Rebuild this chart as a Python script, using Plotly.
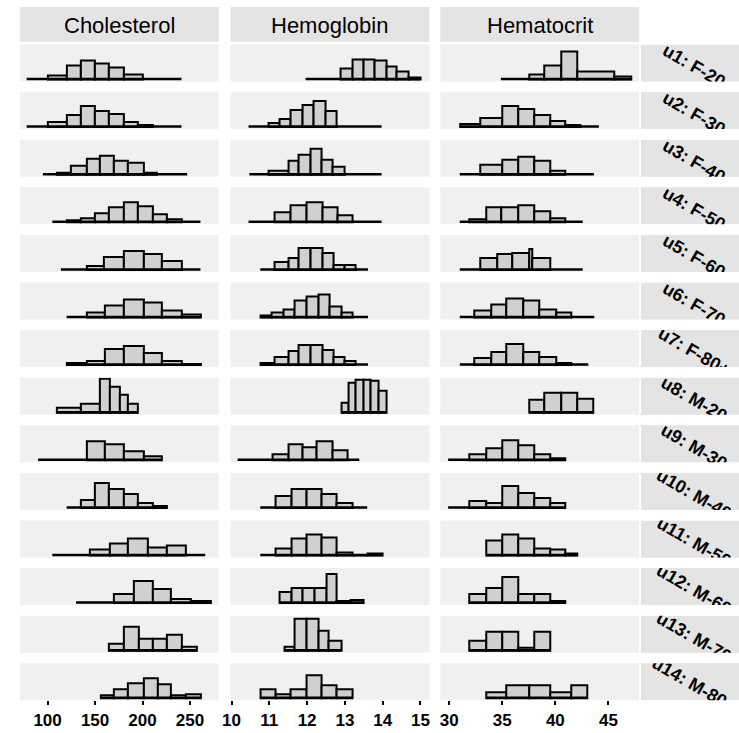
import plotly.graph_objects as go

# ---------------- data ----------------
variables = ["Cholesterol", "Hemoglobin", "Hematocrit"]
groups = ["u1: F-20", "u2: F-30", "u3: F-40", "u4: F-50", "u5: F-60", "u6: F-70", "u7: F-80+",
          "u8: M-20", "u9: M-30", "u10: M-40", "u11: M-50", "u12: M-60", "u13: M-70", "u14: M-80+"]

chol_edges = [
    [100, 120, 135, 150, 165, 180, 200],
    [100, 120, 135, 150, 165, 180, 195, 211],
    [110, 124, 141, 155, 170, 185, 201, 215],
    [120, 135, 150, 165, 180, 195, 211, 226, 241],
    [141, 159, 180, 201, 220, 241],
    [141, 160, 180, 201, 220, 241, 261],
    [120, 141, 160, 180, 201, 220, 241, 261],
    [110, 135, 155, 166, 176, 185, 195],
    [141, 160, 180, 201, 220],
    [135, 150, 165, 180, 195, 211, 226],
    [145, 166, 185, 206, 226, 246],
    [170, 191, 211, 230, 251, 272],
    [165, 180, 196, 211, 226, 241, 257],
    [156, 170, 185, 201, 216, 230, 246, 261],
]
chol_counts = [
    [3.3, 13.3, 19, 15.7, 11.7, 5],
    [4.7, 11.3, 20.7, 15.7, 12.3, 5, 2],
    [1.3, 8.3, 15.7, 18.7, 14, 11.3, 2],
    [1.7, 3.3, 9, 15, 19.7, 15.7, 7.3, 2.7],
    [4, 12.7, 18.3, 15.7, 8.3],
    [5, 11.3, 18, 14.7, 6.3, 2.3],
    [2, 3.3, 16, 19, 11.7, 3.3, 1],
    [5, 8.3, 34, 25.7, 17.3, 8.3],
    [18.7, 16, 8.7, 3.3],
    [8, 24.7, 19, 13.3, 4.7, 1.7],
    [6, 12, 16.3, 8, 9.3],
    [8.3, 21.7, 14, 3.3, 1.7],
    [6.7, 24, 11.3, 11.3, 15.3, 3.3],
    [2.3, 9, 14.7, 20, 14, 2.3, 3.3],
]
chol_span = [[78, 241], [78, 241], [95, 247], [105, 261], [114, 261], [120, 261], [120, 261],
             [110, 195], [90, 220], [120, 226], [105, 266], [130, 272], [165, 257], [156, 261]]

hgb_edges = [
    [12.88, 13.2, 13.49, 13.79, 14.09, 14.38, 14.69, 14.99],
    [10.98, 11.26, 11.56, 11.87, 12.18, 12.48, 12.78],
    [10.98, 11.5, 11.78, 12.09, 12.39, 12.68, 12.98],
    [11.15, 11.56, 11.98, 12.4, 12.81, 13.2],
    [11.15, 11.5, 11.78, 12.09, 12.4, 12.7, 12.98, 13.27],
    [10.76, 11.07, 11.37, 11.68, 11.98, 12.29, 12.59, 12.9, 13.2],
    [10.76, 11.15, 11.5, 11.78, 12.09, 12.4, 12.7, 12.98, 13.27],
    [12.9, 13.09, 13.27, 13.49, 13.68, 13.88, 14.09],
    [11.09, 11.5, 11.88, 12.26, 12.68, 13.07],
    [11.17, 11.59, 11.98, 12.37, 12.78, 13.19],
    [11.17, 11.59, 11.98, 12.37, 12.78, 13.19, 13.59, 13.99],
    [11.28, 11.59, 11.88, 12.2, 12.51, 12.78, 13.16, 13.49],
    [11.39, 11.68, 11.98, 12.29, 12.57, 12.9],
    [10.76, 11.17, 11.57, 11.98, 12.37, 12.78, 13.19],
]
hgb_counts = [
    [10.7, 20, 20, 18.3, 13, 8, 1.7],
    [3.3, 7.3, 16.7, 21.7, 26, 15.7],
    [4, 13.3, 19.3, 25.7, 14.3, 7.7],
    [9.3, 16.7, 19.3, 15, 6.7],
    [7.7, 12, 21.7, 21.7, 17, 5, 5],
    [1.7, 4.3, 7.3, 16.7, 21, 22.7, 10.7, 5],
    [1.7, 7.7, 13.7, 19.3, 20, 15, 7.7, 3.7],
    [9.7, 29.7, 32.3, 33, 31.3, 21.3],
    [5.3, 16, 12.7, 18.7, 9.3],
    [11.3, 19, 19, 13.3, 4.7],
    [7, 17, 20.3, 17.7, 2.7, 0, 2],
    [11, 15, 15, 15, 28.7, 2, 2.7],
    [4, 31.3, 31.3, 20, 10],
    [9, 3.3, 9, 23, 13, 9],
]
hgb_span = [[11.96, 14.99], [10.45, 13.97], [10.47, 13.97], [10.45, 13.97], [10.76, 13.61],
            [10.76, 13.61], [10.76, 13.61], [12.9, 14.09], [10.16, 13.38], [10.76, 13.59],
            [10.76, 13.99], [11.28, 13.49], [11.39, 12.9], [10.76, 13.19]]

hct_edges = [
    [37.52, 38.97, 40.53, 42.02, 45.54, 47.15],
    [31.0, 32.95, 34.97, 36.52, 37.98, 39.53, 40.93, 42.33],
    [32.95, 34.97, 36.52, 37.98, 39.53, 40.93],
    [31.93, 33.48, 34.94, 36.5, 37.99, 39.53, 40.93],
    [32.95, 34.5, 35.96, 37.52, 37.83, 39.53],
    [32.4, 34.01, 35.41, 36.99, 38.51, 40.07, 41.49],
    [32.4, 34.01, 35.41, 36.99, 38.51, 40.07, 41.49],
    [37.58, 38.97, 40.56, 42.09, 43.58],
    [31.86, 33.48, 34.97, 36.52, 37.98, 39.53, 40.93],
    [31.86, 33.48, 34.97, 36.52, 37.98, 39.53, 40.93],
    [33.48, 34.97, 36.52, 37.98, 39.53, 40.93, 42.09],
    [31.86, 33.48, 34.97, 36.52, 37.98, 39.53, 40.93],
    [31.86, 33.48, 34.97, 36.52, 37.98, 39.53],
    [33.48, 35.41, 37.52, 39.53, 41.49, 43.05],
]
hct_counts = [
    [5, 13.3, 27.3, 8, 2.3],
    [2.3, 9, 20.7, 17.3, 11.7, 5.7, 1.3],
    [9.3, 15, 17.3, 13.3, 4],
    [3, 14.3, 14.3, 16.7, 10.7, 3.3],
    [12, 15.3, 16.7, 21, 12],
    [6.3, 13, 19, 16.3, 8, 4.7],
    [7, 12.7, 21, 12.7, 7.7, 1.7],
    [13, 20, 20, 14],
    [6, 11.7, 20, 14.3, 6, 2],
    [6.7, 4.7, 21.3, 14.7, 9.7, 4.7],
    [14.3, 20.3, 17, 7, 6, 2],
    [8.7, 14.3, 25.3, 8.3, 8.3, 2],
    [10, 18.3, 18.3, 3, 18.3],
    [5.7, 12.3, 12.3, 5.7, 12.3],
]
hct_span = [[34.87, 47.15], [31.0, 44.1], [31.0, 43.63], [31.0, 42.58], [31.0, 42.58],
            [31.0, 43.67], [31.0, 43.11], [37.58, 43.58], [29.9, 40.93], [29.9, 40.93],
            [33.48, 42.09], [31.86, 40.93], [31.86, 39.53], [33.48, 43.05]]

x_ranges = [[70.8, 280.2], [9.974, 15.236], [29.16, 47.89]]
x_ticks = [[100, 150, 200, 250], [10, 11, 12, 13, 14, 15], [30, 35, 40, 45]]

# ---------------- layout geometry (window pixels) ----------------
W, H = 739, 733
col_px = [(12, 213), (225, 426), (437, 638)]
strip_x0 = 640
row_base0, row_pitch = 79, 47.6
y_lo, y_hi = -2.5, 34.5  # count axis range

PANEL_BG = "#F0F0F0"
STRIP_BG = "#E4E4E4"
BAR_FILL = "#D0D0D0"
FONT = "Liberation Sans, Arial, sans-serif"

all_edges = [chol_edges, hgb_edges, hct_edges]
all_counts = [chol_counts, hgb_counts, hct_counts]
all_span = [chol_span, hgb_span, hct_span]


def px_x(x):
    return x / W


def px_y(y):
    return 1 - y / H


def row_domain(i):
    base = row_base0 + row_pitch * i
    return [px_y(base + 2.5), px_y(base - 34.5)]


fig = go.Figure()
layout = {}
k = 0
for i in range(14):
    for c in range(3):
        k += 1
        suf = "" if k == 1 else str(k)
        edges = all_edges[c][i]
        counts = all_counts[c][i]
        centers = [(edges[j] + edges[j + 1]) / 2 for j in range(len(counts))]
        widths = [edges[j + 1] - edges[j] for j in range(len(counts))]
        fig.add_trace(go.Bar(x=centers, y=counts, width=widths, xaxis="x" + suf, yaxis="y" + suf,
                             marker=dict(color=BAR_FILL, line=dict(color="black", width=2)),
                             showlegend=False, hoverinfo="skip"))
        lo, hi = all_span[c][i]
        fig.add_trace(go.Scatter(x=[lo, hi], y=[0, 0], mode="lines", xaxis="x" + suf, yaxis="y" + suf,
                                 line=dict(color="black", width=2.5), showlegend=False, hoverinfo="skip"))
        bottom = (i == 13)
        layout["xaxis" + suf] = dict(
            domain=[px_x(col_px[c][0]), px_x(col_px[c][1])], range=x_ranges[c], anchor="y" + suf,
            showgrid=False, zeroline=False, showline=False, fixedrange=True,
            tickmode="array", tickvals=x_ticks[c] if bottom else [],
            ticks="outside" if bottom else "", ticklen=4, tickwidth=2, tickcolor="black",
            showticklabels=bottom,
            tickfont=dict(family=FONT, size=17, color="black", weight="bold"))
        layout["yaxis" + suf] = dict(
            domain=row_domain(i), range=[y_lo, y_hi], anchor="x" + suf,
            showgrid=False, zeroline=False, showline=False, showticklabels=False, ticks="",
            fixedrange=True)

# row strips on the right, as clipped subplots (labels clipped by the strip like the original)
for i in range(14):
    k += 1
    suf = str(k)
    fig.add_trace(go.Bar(x=[0.5], y=[1], width=[1], xaxis="x" + suf, yaxis="y" + suf,
                         marker=dict(color=STRIP_BG, line=dict(width=0)),
                         showlegend=False, hoverinfo="skip"))
    fig.add_trace(go.Bar(x=[0.545], y=[0.838], width=[0.9], xaxis="x" + suf, yaxis="y" + suf,
                         marker=dict(color="rgba(0,0,0,0)", line=dict(width=0)),
                         text=[groups[i]], textposition="inside", insidetextanchor="middle",
                         textangle=30, constraintext="none", cliponaxis=True,
                         textfont=dict(family=FONT, size=18, color="black", weight="bold"),
                         showlegend=False, hoverinfo="skip"))
    layout["xaxis" + suf] = dict(domain=[px_x(strip_x0), 1], range=[0, 1], anchor="y" + suf,
                                 visible=False, fixedrange=True)
    layout["yaxis" + suf] = dict(domain=row_domain(i), range=[0, 1], anchor="x" + suf,
                                 visible=False, fixedrange=True)

# column header strips
shapes = []
annotations = []
for c in range(3):
    x0, x1 = col_px[c]
    shapes.append(dict(type="rect", xref="paper", yref="paper", x0=px_x(x0), x1=px_x(x1),
                       y0=px_y(42), y1=px_y(7), fillcolor=STRIP_BG, line=dict(width=0),
                       layer="below"))
    annotations.append(dict(text=variables[c], xref="paper", yref="paper",
                            x=px_x((x0 + x1) / 2), y=px_y(25), showarrow=False,
                            xanchor="center", yanchor="middle",
                            font=dict(family=FONT, size=22, color="black")))

fig.update_layout(width=W, height=H, margin=dict(l=0, r=0, t=0, b=0),
                  paper_bgcolor="white", plot_bgcolor=PANEL_BG, showlegend=False,
                  barmode="overlay", bargap=0, shapes=shapes, annotations=annotations, **layout)

fig.write_html("out.html", config={"displayModeBar": False},
               post_script="document.documentElement.style.overflow='hidden';"
                           "document.body.style.margin='0';document.body.style.overflow='hidden';")
